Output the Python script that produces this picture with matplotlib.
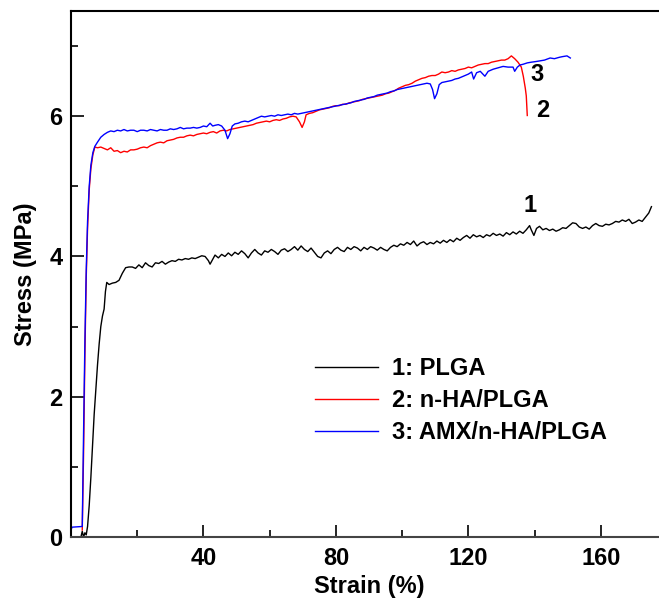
import matplotlib
matplotlib.use("Agg")
import matplotlib.pyplot as plt
from matplotlib.ticker import MultipleLocator

plt.rcParams['font.family'] = ['Liberation Sans', 'DejaVu Sans']
plt.rcParams['font.weight'] = 'bold'

# 1: PLGA
plga_strain = [3.0, 3.4, 3.8, 4.2, 4.6, 5.0, 5.5, 6.0, 6.5, 7.0, 7.5, 8.0, 8.5, 9.0, 9.5,
               10.0, 10.4, 10.8, 11.5, 12.5, 13.5, 14.5, 15.5, 16.5, 17.5, 18.5, 19.5, 20.5,
               21.5, 22.5, 23.5, 24.5, 25.5, 26.5, 27.5, 28.5, 29.5, 30.5, 31.5, 32.5, 33.5,
               34.5, 35.5, 36.5, 37.5, 38.5, 39.5, 40.5, 41.5, 42.0, 42.8, 43.5, 44.5, 45.5,
               46.5, 47.5, 48.5, 49.5, 50.5, 51.5, 52.5, 53.5, 54.5, 55.5, 56.5, 57.5, 58.5,
               59.5, 60.5, 61.5, 62.5, 63.5, 64.5, 65.5, 66.5, 67.5, 68.5, 69.5, 70.5, 71.5,
               72.5, 73.5, 74.5, 75.5, 76.5, 77.5, 78.5, 79.5, 80.5, 81.5, 82.5, 83.5, 84.5,
               85.5, 86.5, 87.5, 88.5, 89.5, 90.5, 91.5, 92.5, 93.5, 94.5, 95.5, 96.5, 97.5,
               98.5, 99.5, 100.5, 101.5, 102.5, 103.5, 104.5, 105.5, 106.5, 107.5, 108.5,
               109.5, 110.5, 111.5, 112.5, 113.5, 114.5, 115.5, 116.5, 117.5, 118.5, 119.5,
               120.5, 121.5, 122.5, 123.5, 124.5, 125.5, 126.5, 127.5, 128.5, 129.5, 130.5,
               131.5, 132.5, 133.5, 134.5, 135.5, 136.5, 137.5, 138.5, 139.0, 139.8, 140.6,
               141.5, 142.5, 143.5, 144.5, 145.5, 146.5, 147.5, 148.5, 149.5, 150.5, 151.5,
               152.5, 153.5, 154.5, 155.5, 156.5, 157.5, 158.5, 159.5, 160.5, 161.5, 162.5,
               163.5, 164.5, 165.5, 166.5, 167.5, 168.5, 169.5, 170.5, 171.5, 172.5, 173.5,
               174.5, 175.3]
plga_stress = [0.00, 0.08, 0.00, 0.06, 0.03, 0.15, 0.45, 0.85, 1.30, 1.75, 2.10, 2.45, 2.75,
               3.00, 3.15, 3.25, 3.50, 3.63, 3.60, 3.62, 3.63, 3.66, 3.76, 3.84, 3.85, 3.85,
               3.83, 3.88, 3.84, 3.91, 3.87, 3.85, 3.91, 3.90, 3.93, 3.89, 3.92, 3.94, 3.93,
               3.96, 3.95, 3.97, 3.96, 3.98, 3.97, 3.99, 4.01, 4.00, 3.94, 3.89, 3.96, 4.02,
               3.98, 4.03, 4.00, 4.05, 4.01, 4.06, 4.03, 4.08, 4.04, 3.98, 4.05, 4.10, 4.05,
               4.02, 4.08, 4.06, 4.10, 4.07, 4.03, 4.09, 4.11, 4.07, 4.10, 4.14, 4.09, 4.15,
               4.10, 4.07, 4.12, 4.06, 4.00, 3.98, 4.05, 4.08, 4.04, 4.10, 4.13, 4.09, 4.07,
               4.13, 4.10, 4.14, 4.12, 4.08, 4.13, 4.10, 4.14, 4.12, 4.09, 4.13, 4.10, 4.08,
               4.13, 4.16, 4.14, 4.18, 4.16, 4.20, 4.17, 4.22, 4.15, 4.19, 4.21, 4.17, 4.20,
               4.18, 4.22, 4.19, 4.23, 4.20, 4.24, 4.21, 4.26, 4.23, 4.27, 4.30, 4.26, 4.31,
               4.28, 4.30, 4.27, 4.31, 4.29, 4.33, 4.30, 4.32, 4.29, 4.34, 4.31, 4.35, 4.32,
               4.36, 4.33, 4.38, 4.44, 4.38, 4.30, 4.40, 4.43, 4.38, 4.40, 4.37, 4.39, 4.36,
               4.38, 4.41, 4.40, 4.44, 4.48, 4.47, 4.42, 4.40, 4.42, 4.39, 4.44, 4.47, 4.44,
               4.43, 4.46, 4.45, 4.47, 4.50, 4.49, 4.52, 4.50, 4.53, 4.47, 4.49, 4.52, 4.50,
               4.56, 4.62, 4.71]

# 2: n-HA/PLGA
nha_strain = [3.4, 3.8, 4.2, 4.6, 5.0, 5.5, 6.0, 6.6, 7.2, 8.0, 9.0, 10.0, 11.0, 12.0, 13.0,
              14.0, 15.0, 16.0, 17.0, 18.0, 19.0, 20.0, 21.0, 22.0, 23.0, 24.0, 25.0, 26.0,
              27.0, 28.0, 29.0, 30.0, 31.0, 32.0, 33.0, 34.0, 35.0, 36.0, 37.0, 38.0, 39.0,
              40.0, 41.0, 42.0, 43.0, 44.0, 45.0, 46.0, 47.0, 48.0, 49.0, 50.0, 51.0, 52.0,
              53.0, 54.0, 55.0, 56.0, 57.0, 58.0, 59.0, 60.0, 61.0, 62.0, 63.0, 64.0, 65.0,
              66.0, 67.0, 68.0, 69.0, 69.8, 70.5, 71.0, 72.0, 73.0, 74.0, 75.0, 76.0, 77.0,
              78.0, 79.0, 80.0, 81.0, 82.0, 83.0, 84.0, 85.0, 86.0, 87.0, 88.0, 89.0, 90.0,
              91.0, 92.0, 93.0, 94.0, 95.0, 96.0, 97.0, 98.0, 99.0, 100.0, 101.0, 102.0,
              103.0, 104.0, 105.0, 106.0, 107.0, 108.0, 109.0, 110.0, 111.0, 112.0, 113.0,
              114.0, 115.0, 116.0, 117.0, 118.0, 119.0, 120.0, 121.0, 122.0, 123.0, 124.0,
              125.0, 126.0, 127.0, 128.0, 129.0, 130.0, 131.0, 132.0, 133.0, 134.0, 135.0,
              136.0, 136.6, 137.2, 137.5, 137.8]
nha_stress = [0.10, 1.20, 2.60, 3.70, 4.40, 4.95, 5.25, 5.45, 5.56, 5.55, 5.56, 5.54, 5.52,
              5.55, 5.50, 5.51, 5.48, 5.50, 5.49, 5.52, 5.52, 5.53, 5.55, 5.56, 5.55, 5.58,
              5.60, 5.62, 5.63, 5.62, 5.65, 5.66, 5.67, 5.69, 5.70, 5.70, 5.72, 5.73, 5.72,
              5.74, 5.75, 5.76, 5.75, 5.77, 5.78, 5.76, 5.79, 5.80, 5.79, 5.81, 5.82, 5.83,
              5.84, 5.85, 5.86, 5.87, 5.88, 5.90, 5.91, 5.92, 5.93, 5.92, 5.94, 5.95, 5.94,
              5.96, 5.97, 5.99, 6.00, 5.99, 5.92, 5.84, 5.92, 6.02, 6.04, 6.05, 6.07, 6.09,
              6.10, 6.11, 6.12, 6.14, 6.15, 6.15, 6.17, 6.17, 6.19, 6.20, 6.21, 6.22, 6.24,
              6.25, 6.26, 6.27, 6.28, 6.29, 6.30, 6.32, 6.33, 6.35, 6.37, 6.40, 6.42, 6.44,
              6.45, 6.47, 6.50, 6.52, 6.54, 6.55, 6.57, 6.58, 6.58, 6.60, 6.63, 6.62, 6.63,
              6.65, 6.64, 6.66, 6.67, 6.68, 6.70, 6.69, 6.71, 6.73, 6.74, 6.75, 6.75, 6.77,
              6.78, 6.79, 6.80, 6.80, 6.82, 6.86, 6.82, 6.77, 6.70, 6.57, 6.40, 6.29, 6.01]

# 3: AMX/n-HA/PLGA
amx_strain = [0.0, 0.3, 3.4, 3.5, 3.8, 4.2, 4.6, 5.0, 5.5, 6.0, 6.6, 7.2, 8.0, 9.0, 10.0,
              11.0, 12.0, 13.0, 14.0, 15.0, 16.0, 17.0, 18.0, 19.0, 20.0, 21.0, 22.0, 23.0,
              24.0, 25.0, 26.0, 27.0, 28.0, 29.0, 30.0, 31.0, 32.0, 33.0, 34.0, 35.0, 36.0,
              37.0, 38.0, 39.0, 40.0, 41.0, 42.0, 42.8, 43.5, 44.5, 45.5, 46.5, 47.3, 48.0,
              48.7, 49.5, 50.5, 51.5, 52.5, 53.5, 54.5, 55.5, 56.5, 57.5, 58.5, 59.5, 60.5,
              61.5, 62.5, 63.5, 64.5, 65.5, 66.5, 67.5, 68.5, 69.5, 70.5, 71.5, 72.5, 73.5,
              74.5, 75.5, 76.5, 77.5, 78.5, 79.5, 80.5, 81.5, 82.5, 83.5, 84.5, 85.5, 86.5,
              87.5, 88.5, 89.5, 90.5, 91.5, 92.5, 93.5, 94.5, 95.5, 96.5, 97.5, 98.5, 99.5,
              100.5, 101.5, 102.5, 103.5, 104.5, 105.5, 106.5, 107.5, 108.5, 109.2, 109.8,
              110.5, 111.2, 112.0, 113.0, 114.0, 115.0, 116.0, 117.0, 118.0, 119.0, 120.0,
              121.0, 121.6, 122.5, 123.6, 125.0, 126.0, 127.5, 129.0, 130.5, 132.0, 133.5,
              134.0, 134.8, 135.6, 136.5, 137.8, 139.0, 140.5, 141.7, 143.0, 144.7, 146.0,
              147.5, 148.5, 149.8, 150.8]
amx_stress = [0.10, 0.14, 0.15, 0.50, 1.50, 2.80, 3.80, 4.50, 5.00, 5.30, 5.48, 5.57, 5.63,
              5.70, 5.74, 5.77, 5.79, 5.78, 5.80, 5.79, 5.81, 5.79, 5.80, 5.80, 5.78, 5.80,
              5.80, 5.79, 5.81, 5.80, 5.79, 5.81, 5.80, 5.80, 5.82, 5.81, 5.82, 5.84, 5.82,
              5.83, 5.83, 5.84, 5.83, 5.84, 5.86, 5.85, 5.90, 5.86, 5.87, 5.88, 5.86, 5.80,
              5.68, 5.75, 5.86, 5.89, 5.90, 5.92, 5.93, 5.92, 5.94, 5.96, 5.98, 6.00, 5.99,
              6.00, 6.01, 6.00, 6.02, 6.01, 6.02, 6.03, 6.02, 6.04, 6.03, 6.04, 6.05, 6.06,
              6.07, 6.08, 6.09, 6.10, 6.11, 6.12, 6.13, 6.14, 6.15, 6.16, 6.17, 6.18, 6.19,
              6.21, 6.22, 6.23, 6.24, 6.26, 6.27, 6.28, 6.30, 6.31, 6.32, 6.33, 6.35, 6.36,
              6.38, 6.39, 6.40, 6.41, 6.42, 6.43, 6.44, 6.45, 6.46, 6.47, 6.46, 6.38, 6.25,
              6.32, 6.45, 6.48, 6.49, 6.50, 6.51, 6.53, 6.54, 6.56, 6.58, 6.60, 6.63, 6.53,
              6.62, 6.64, 6.57, 6.64, 6.67, 6.69, 6.71, 6.70, 6.70, 6.64, 6.70, 6.73, 6.74,
              6.76, 6.77, 6.78, 6.79, 6.80, 6.83, 6.82, 6.84, 6.85, 6.86, 6.83]

fig = plt.figure(figsize=(6.59, 6.0), dpi=100)
ax = fig.add_axes([71 / 659, 63 / 600, 596 / 659, 526 / 600])

ax.plot(plga_strain, plga_stress, color='black', lw=1.0, label='1: PLGA')
ax.plot(nha_strain, nha_stress, color='#ff0000', lw=1.0, label='2: n-HA/PLGA')
ax.plot(amx_strain, amx_stress, color='#0000ff', lw=1.0, label='3: AMX/n-HA/PLGA')

ax.set_xlim(0, 180)
ax.set_ylim(0, 7.5)
ax.set_xticks([40, 80, 120, 160])
ax.xaxis.set_minor_locator(MultipleLocator(20))
ax.set_yticks([0, 2, 4, 6])
ax.yaxis.set_minor_locator(MultipleLocator(1))
ax.tick_params(which='both', direction='in', labelsize=17, width=1.2)
ax.tick_params(which='major', length=9)
ax.tick_params(which='minor', length=5)
ax.tick_params(axis='x', pad=7)
ax.tick_params(axis='y', pad=6)
for lab in ax.get_xticklabels() + ax.get_yticklabels():
    lab.set_fontweight('bold')

for side in ['left', 'top', 'bottom', 'right']:
    ax.spines[side].set_linewidth(1.5)
ax.spines['bottom'].set_color('#444444')

ax.set_xlabel('Strain (%)', fontsize=17, fontweight='bold', labelpad=4)
ax.set_ylabel('Stress (MPa)', fontsize=17, fontweight='bold', labelpad=9)

ax.text(138.7, 4.72, '1', fontsize=17, fontweight='bold', ha='center', va='center')
ax.text(142.6, 6.08, '2', fontsize=17, fontweight='bold', ha='center', va='center')
ax.text(140.8, 6.6, '3', fontsize=17, fontweight='bold', ha='center', va='center')

ax.legend(loc='center left', bbox_to_anchor=(0.39, 0.259), frameon=False,
          borderpad=0, handlelength=2.65, handletextpad=0.6,
          labelspacing=0.38, prop={'weight': 'bold', 'size': 17})

fig.savefig('out.png', dpi=100)
